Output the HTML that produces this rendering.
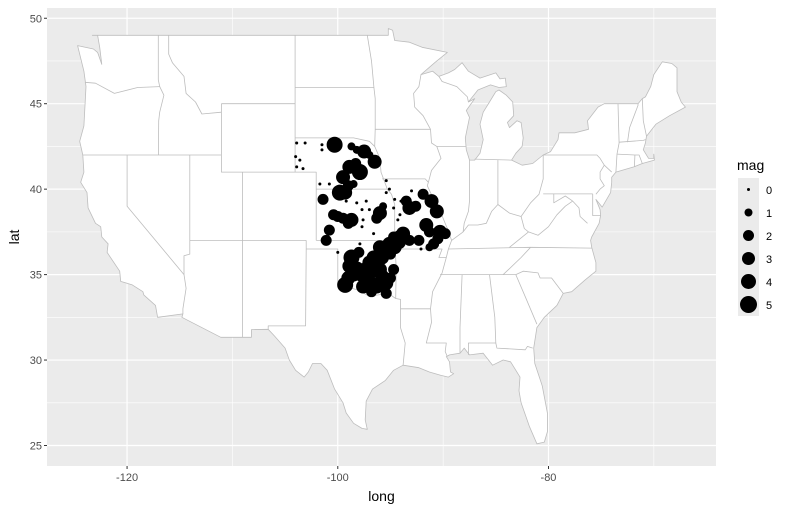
<!DOCTYPE html>
<html><head><meta charset="utf-8"><style>
body{margin:0;background:#fff;font-family:"Liberation Sans",Arial,sans-serif;}
svg text{font-family:"Liberation Sans",Arial,sans-serif;}
</style></head><body>
<svg id="chart" width="790" height="511" xmlns="http://www.w3.org/2000/svg">
<rect x="0" y="0" width="790" height="511" fill="#fff"/>
<rect x="47" y="8" width="669" height="458" fill="#ebebeb"/>
<g id="grid"></g>
<g id="map"></g>
<g id="pts"></g>
<g id="axes"></g>
<g id="legend"></g>
</svg>
<script>
const lons = [-103.9,-103.1,-101.5,-101.5,-104.0,-103.6,-103.9,-103.3,-101.7,-100.8,-99.2,-95.4,-95.1,-95.4,-93.0,-99.2,-98.2,-97.3,-97.7,-97.0,-97.6,-97.7,-96.6,-94.6,-94.3,-94.1,-97.9,-100.0,-92.1,-94.7,-94.0,-98.7,-98.2,-98.5,
-100.3,-97.5,-96.5,-98.9,-97.9,-99.5,-99.8,-101.4,-100.4,-99.5,-98.7,-96.0,-95.7,-100.8,-101.1,-93.2,-93.5,-91.9,-91.1,-90.6,-91.6,-89.8,-90.5,-90.9,-93.8,-93.2,-94.7,-98.7,-99.3,-98.2,-97.3,-96.6,-96.0,-95.1,-94.1,-96.3,-95.4,-94.7,-96.0,-97.6,-95.4,-97.0,-98.9,
-97.8,-97.0,-96.8,-96.4,-95.8,-95.5,-95.0,-94.6,-94.2,-95.8,-95.0,-96.8,-98.5,-99.0,-98.0,-97.4,-99.0,-99.3,-98.3,-97.0,-100.0,-99.0,-96.3,-92.6,-92.3,-90.3,-91.3,-91.3];
const lats = [42.7,42.7,42.6,42.3,41.9,41.7,41.3,41.2,40.3,40.3,40.2,40.5,40.0,39.8,39.9,39.3,39.2,39.3,38.8,38.8,38.2,37.8,37.4,39.4,38.2,38.5,36.8,36.3,36.5,38.9,39.3,42.5,42.3,40.3,
42.6,42.2,41.6,41.3,41.0,40.7,39.8,39.4,38.5,38.3,38.2,38.6,39.0,37.6,37.0,38.9,39.3,39.7,39.3,38.7,37.9,37.4,37.1,36.8,37.4,37.0,37.2,36.0,34.4,35.3,34.9,36.0,36.6,36.8,37.2,34.3,34.5,35.3,35.3,34.3,33.9,35.7,35.5,
35.0,34.6,35.2,35.6,36.0,36.4,36.2,36.6,36.9,34.9,34.8,34.0,35.0,34.8,36.3,35.3,40.2,39.8,41.5,42.0,38.4,38.0,38.3,39.0,37.0,37.5,37.5,36.6];
const mags = [0,0,0,0,0,0,0,0,0,0,0,0,0,0,0,0,0,0,0,0,0,0,0,0,0,0,0,0,0,0,0,1,1,1,
4,3,3,3,4,3,4,2,2,2,3,3,1,2,2,3,2,2,3,3,3,2,2,2,3,2,2,4,4,4,4,3,3,3,3,3,3,2,3,3,2,3,3,
3,3,3,3,3,3,2,3,3,3,2,2,3,3,2,3,2,3,2,1,2,2,2,2,2,3,2,1];
const xTicks = [-120,-100,-80];
const yTicks = [25,30,35,40,45,50];
const legendMags = [0,1,2,3,4,5];

const NS="http://www.w3.org/2000/svg";
const X0=47,X1=716,Y0=8,Y1=466,LON0=-127.6,LON1=-64.1,LAT0=23.8,LAT1=50.6;
function sx(lon){return X0+(lon-LON0)/(LON1-LON0)*(X1-X0);}
function sy(lat){return Y1-(lat-LAT0)/(LAT1-LAT0)*(Y1-Y0);}
function rad(m){return [1.5,4,5.5,7,8,9][m];}
function mk(tag,attrs,parent){const e=document.createElementNS(NS,tag);for(const k in attrs)e.setAttribute(k,attrs[k]);parent.appendChild(e);return e;}

const grid=document.getElementById('grid');
[-130,-110,-90,-70].forEach(v=>{const l=mk('line',{x1:sx(v),x2:sx(v),y1:Y0,y2:Y1,stroke:'#fff','stroke-width':0.6},grid);

});
[27.5,32.5,37.5,42.5,47.5].forEach(v=>{const l=mk('line',{x1:X0,x2:X1,y1:sy(v),y2:sy(v),stroke:'#fff','stroke-width':0.6},grid);

});
xTicks.forEach(v=>{const l=mk('line',{x1:sx(v),x2:sx(v),y1:Y0,y2:Y1,stroke:'#fff','stroke-width':1.2},grid);

});
yTicks.forEach(v=>{const l=mk('line',{x1:X0,x2:X1,y1:sy(v),y2:sy(v),stroke:'#fff','stroke-width':1.2},grid);

});

const outline=[[-123.3,49],[-95.2,49],[-95.2,49.4],[-94.8,49.3],[-94.6,48.7],[-93.2,48.6],[-92.0,48.3],[-89.6,48.0],[-90.8,47.4],[-92.1,46.7],[-91.0,46.9],[-90.4,46.6],[-89.5,46.8],[-88.9,47.0],[-88.2,47.4],[-87.6,46.9],[-86.5,46.5],[-85.0,46.8],[-84.6,46.45],[-84.1,46.5],[-84.0,46.0],[-84.7,45.95],[-85.5,46.1],[-86.7,45.8],[-87.6,45.1],[-87.0,45.3],[-87.8,44.6],[-87.5,44.2],[-87.9,43.0],[-87.8,42.3],[-87.5,41.7],[-87.0,41.7],[-86.5,42.1],[-86.2,42.9],[-86.5,43.8],[-86.2,44.5],[-85.6,45.1],[-85.0,45.7],[-84.7,45.8],[-84.0,45.5],[-83.4,45.1],[-83.3,44.3],[-83.9,43.9],[-83.7,43.6],[-83.0,44.0],[-82.6,43.9],[-82.4,43.0],[-82.5,42.5],[-83.1,42.1],[-83.5,41.7],[-82.5,41.4],[-81.5,41.5],[-80.5,42.0],[-79.8,42.2],[-79.1,42.9],[-79.0,43.3],[-77.5,43.3],[-76.2,43.5],[-76.3,44.0],[-75.3,44.8],[-74.7,45.0],[-71.5,45.0],[-71.1,45.3],[-70.8,45.4],[-70.3,46.0],[-70.0,46.7],[-69.2,47.45],[-68.3,47.35],[-67.8,47.1],[-67.8,45.7],[-67.4,45.1],[-67.0,44.8],[-68.5,44.3],[-69.8,43.8],[-70.7,43.1],[-70.8,42.7],[-71.0,42.3],[-70.5,41.8],[-70.0,41.8],[-70.0,42.05],[-69.95,41.7],[-70.5,41.6],[-71.1,41.5],[-71.9,41.3],[-73.6,41.0],[-74.0,40.7],[-74.0,40.4],[-74.1,39.8],[-74.9,38.95],[-75.5,39.4],[-75.1,38.8],[-75.05,38.45],[-75.2,38.0],[-75.9,37.2],[-76.0,37.0],[-75.9,36.6],[-75.5,35.7],[-75.5,35.2],[-76.5,34.7],[-77.8,34.0],[-78.6,33.9],[-79.2,33.2],[-80.4,32.5],[-81.1,31.9],[-81.4,30.7],[-81.3,29.8],[-80.6,28.5],[-80.1,26.9],[-80.1,25.8],[-80.4,25.2],[-81.1,25.1],[-81.8,26.1],[-82.6,27.5],[-82.8,28.2],[-82.7,29.0],[-83.6,29.9],[-84.3,30.0],[-85.3,29.7],[-86.2,30.4],[-87.5,30.3],[-88.0,30.7],[-88.4,30.4],[-89.4,30.3],[-89.7,30.2],[-89.4,29.9],[-89.3,29.3],[-89.0,29.2],[-89.5,29.0],[-90.2,29.1],[-91.3,29.3],[-92.3,29.55],[-93.8,29.7],[-94.7,29.4],[-95.5,28.8],[-96.7,28.3],[-97.3,27.6],[-97.4,26.5],[-97.2,25.95],[-97.7,26.0],[-98.5,26.3],[-99.2,26.9],[-99.5,27.5],[-100.3,28.3],[-101.0,29.4],[-101.6,29.8],[-102.4,29.8],[-102.8,29.3],[-103.2,29.0],[-104.0,29.4],[-104.6,30.0],[-105.0,30.7],[-106.0,31.4],[-106.6,31.8],[-108.2,31.78],[-108.2,31.33],[-111.1,31.33],[-114.8,32.5],[-114.7,32.7],[-117.1,32.5],[-117.3,33.2],[-118.4,33.8],[-118.5,34.0],[-119.5,34.4],[-120.6,34.6],[-120.7,35.2],[-121.9,36.3],[-121.8,36.8],[-122.4,37.2],[-122.5,37.8],[-123.0,38.0],[-123.7,38.9],[-123.8,39.8],[-124.4,40.4],[-124.1,41.0],[-124.2,42.0],[-124.5,42.8],[-124.1,43.7],[-123.9,46.0],[-124.1,46.9],[-124.7,48.4],[-123.2,48.2],[-122.8,48.0],[-122.4,47.3],[-122.6,48.3],[-122.8,49.0]];
const borders=[
[[-124,46.25],[-123,46.2],[-121.2,45.6],[-119.0,45.95],[-116.9,46.0]],
[[-117.04,49],[-117.04,46.4],[-116.9,46.0]],
[[-116.9,46.0],[-116.5,45.5],[-116.9,44.5],[-117.0,44.0],[-117.03,42.0]],
[[-124.2,42],[-111.05,42]],
[[-120,42],[-120,39],[-114.6,35.0]],
[[-114.6,35],[-114.4,34.2],[-114.7,33.0],[-114.7,32.7]],
[[-114.6,35],[-114.6,36.1],[-114.05,36.2],[-114.05,37]],
[[-114.05,42],[-114.05,37]],
[[-116.05,49],[-116.05,47.9],[-115.7,47.4],[-114.6,46.6],[-114.4,45.6],[-113.5,45.1],[-112.9,44.4],[-111.05,44.5]],
[[-111.05,45],[-111.05,41],[-104.05,41]],
[[-111.05,45],[-104.05,45]],
[[-104.05,49],[-104.05,41],[-102.05,41],[-102.05,37]],
[[-109.05,41],[-109.05,31.33]],
[[-114.05,37],[-103.0,37]],
[[-102.05,40],[-95.3,40]],
[[-103.0,37],[-103.0,36.5],[-103.05,32],[-106.6,32],[-106.6,31.8]],
[[-103.0,36.5],[-100.0,36.5],[-100,34.56],[-99.2,34.3],[-98.1,34.1],[-97.2,33.8],[-96.3,33.8],[-95.2,33.9],[-94.5,33.6]],
[[-102.05,37],[-94.6,37]],
[[-94.6,37],[-94.45,35.4],[-94.5,33.6],[-94.05,33.55],[-94.05,31.9],[-93.6,31.0],[-93.8,29.7]],
[[-94.05,33.0],[-91.2,33.0]],
[[-91.2,33.0],[-91.1,32.2],[-91.6,31.0],[-89.7,31.0],[-89.8,30.5],[-89.6,30.2]],
[[-104.05,45.94],[-96.56,45.94]],
[[-104.05,43],[-98.5,43],[-97.0,42.8],[-96.5,42.5]],
[[-97.2,49],[-96.8,47.5],[-96.56,45.9],[-96.45,45.3],[-96.45,43.5],[-96.5,42.5],[-96.0,41.8],[-95.9,41.0],[-95.3,40.0],[-94.9,39.7],[-94.6,39.1],[-94.6,37]],
[[-96.45,43.5],[-91.2,43.5]],
[[-95.8,40.6],[-91.7,40.6],[-91.4,40.4]],
[[-94.6,36.5],[-90.1,36.5],[-90.4,36.0],[-89.7,36.0]],
[[-92.1,46.7],[-92.3,46.0],[-92.8,45.6],[-92.7,44.8],[-91.9,44.3],[-91.2,43.5],[-91.1,42.7],[-90.6,42.5],[-87.8,42.5]],
[[-90.6,42.5],[-90.2,41.8],[-91.1,41.1],[-91.4,40.4],[-91.5,40.2],[-90.6,39.0],[-90.2,38.6],[-89.6,37.7],[-89.2,37.0],[-89.5,36.5],[-89.7,36.0],[-90.1,35.1],[-91.0,34.0],[-91.2,33.0]],
[[-90.3,35.0],[-84.3,35.0]],
[[-89.5,36.5],[-81.7,36.6],[-75.9,36.55]],
[[-89.2,37.0],[-88.1,37.5],[-87.6,37.9],[-86.7,37.9],[-85.9,38.0],[-85.4,38.7],[-84.8,39.1],[-83.7,38.6],[-82.6,38.4]],
[[-87.5,41.7],[-87.5,39.3],[-87.6,38.7],[-88.0,38.0],[-88.1,37.5]],
[[-84.8,41.7],[-84.8,39.1]],
[[-87.0,41.76],[-83.5,41.7]],
[[-90.4,46.6],[-90.1,46.3],[-88.7,46.0],[-87.7,45.4],[-87.6,45.1]],
[[-82.6,38.4],[-82.3,37.7],[-81.9,37.5],[-83.7,36.6]],
[[-82.6,38.4],[-81.7,39.2],[-80.9,39.7],[-80.5,40.6],[-80.5,42.0]],
[[-80.5,39.72],[-75.8,39.72]],
[[-79.5,39.72],[-79.5,39.2],[-78.4,39.6],[-77.7,39.3]],
[[-77.7,39.3],[-78.4,39.0],[-79.2,38.5],[-80.0,37.8],[-81.0,37.3],[-81.9,37.5]],
[[-77.7,39.3],[-77.1,38.9],[-77.0,38.4],[-76.3,38.0]],
[[-81.7,36.6],[-82.6,36.0],[-84.3,35.0],[-83.1,35.0],[-82.4,35.2],[-81.0,35.1],[-80.8,34.8],[-79.7,34.8],[-78.6,33.9]],
[[-83.1,35.0],[-82.2,33.7],[-81.1,32.1]],
[[-85.6,35.0],[-85.1,32.5],[-85.0,31.0]],
[[-88.2,35.0],[-88.4,31.9],[-88.4,30.4]],
[[-87.6,30.3],[-87.6,31.0],[-85.0,31.0],[-84.9,30.7],[-82.2,30.6],[-82.0,30.8],[-81.5,30.7]],
[[-75.8,39.72],[-75.8,38.45],[-75.05,38.45]],
[[-75.5,39.7],[-75.1,40.0],[-74.7,40.2],[-75.1,40.6],[-75.1,41.0],[-74.7,41.4],[-74.0,41.0]],
[[-80.5,42.0],[-75.4,42.0],[-75.1,41.8],[-74.7,41.4]],
[[-73.6,41.0],[-73.5,42.05],[-73.3,42.7],[-73.4,45.0]],
[[-73.5,42.05],[-71.8,42.0],[-71.4,42.0],[-71.1,41.5]],
[[-71.8,42.0],[-71.85,41.3]],
[[-73.3,42.75],[-71.0,42.85],[-70.8,42.9]],
[[-72.5,42.75],[-72.3,43.6],[-71.5,44.9],[-71.5,45.0]],
[[-70.7,43.1],[-71.0,44.0],[-71.1,45.3]]
];
const map=document.getElementById('map');
const pstr=a=>a.map((p,i)=>(i?'L':'M')+sx(p[0]).toFixed(1)+' '+sy(p[1]).toFixed(1)).join(' ');
const us=mk('path',{d:pstr(outline)+' Z',fill:'#fff',stroke:'#bdbdbd','stroke-width':0.8,'stroke-linejoin':'round'},map);


borders.forEach(b=>{const e=mk('path',{d:pstr(b),fill:'none',stroke:'#bdbdbd','stroke-width':0.8,'stroke-linejoin':'round'},map);

});

const pts=document.getElementById('pts');
lons.forEach((lon,i)=>{const c=mk('circle',{cx:sx(lon),cy:sy(lats[i]),r:rad(mags[i]),fill:'#000'},pts);

});

const axes=document.getElementById('axes');
xTicks.forEach(v=>{mk('line',{x1:sx(v),x2:sx(v),y1:Y1,y2:Y1+3,stroke:'#333','stroke-width':1},axes);
const t=mk('text',{x:sx(v),y:Y1+15,'text-anchor':'middle','font-size':11,fill:'#4d4d4d'},axes);t.textContent=v;

});
yTicks.forEach(v=>{mk('line',{x1:X0-3,x2:X0,y1:sy(v),y2:sy(v),stroke:'#333','stroke-width':1},axes);
const t=mk('text',{x:X0-5,y:sy(v)+4,'text-anchor':'end','font-size':11,fill:'#4d4d4d'},axes);t.textContent=v;

});
const xt=mk('text',{x:(X0+X1)/2,y:501,'text-anchor':'middle','font-size':14,fill:'#000'},axes);xt.textContent='long';


const yt=mk('text',{x:0,y:0,transform:`translate(19,${(Y0+Y1)/2}) rotate(-90)`,'text-anchor':'middle','font-size':14,fill:'#000'},axes);yt.textContent='lat';



const lg=document.getElementById('legend');
const lt=mk('text',{x:737,y:170,'font-size':14,fill:'#000'},lg);lt.textContent='mag';


legendMags.forEach((m,i)=>{const y=178+i*23;
const bg=mk('rect',{x:738,y:y,width:21,height:23,fill:'#ebebeb'},lg);


const c=mk('circle',{cx:748.5,cy:y+11.5,r:[1.5,4,5.5,6.5,7.5,8.5][m],fill:'#000'},lg);


const t=mk('text',{x:766,y:y+16,'font-size':11,fill:'#000'},lg);t.textContent=m;

});
</script>
</body></html>
